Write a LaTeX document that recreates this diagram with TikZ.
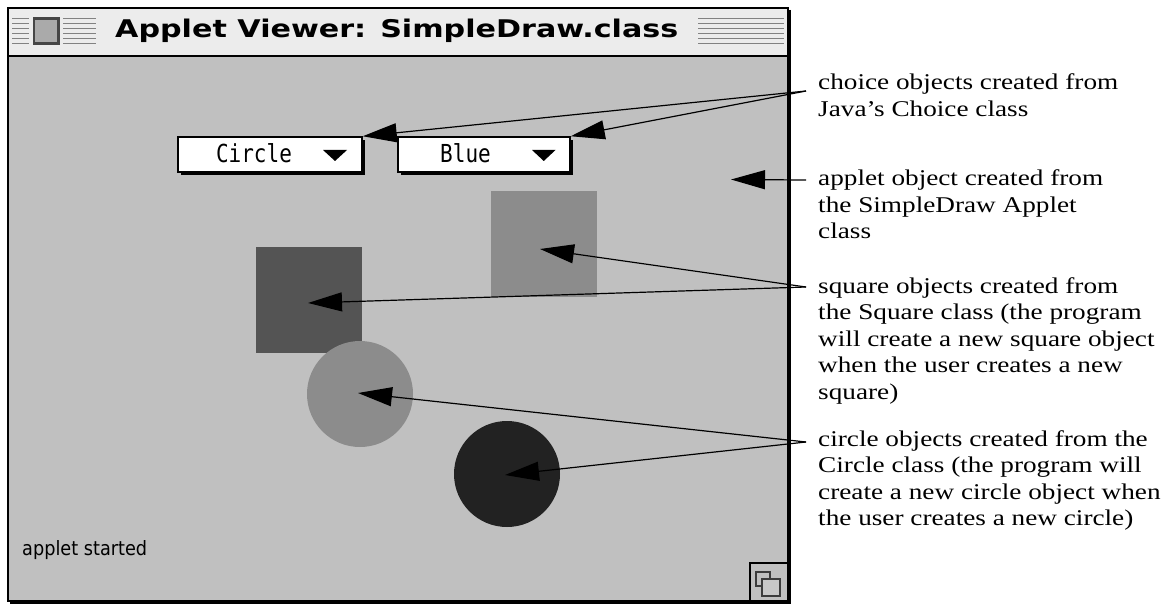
\documentclass[tikz,border=0pt]{standalone}
\usepackage{fontspec}
\setmainfont{Liberation Serif}
\newfontfamily\notefont{Liberation Serif}[FakeStretch=1.21]
\newfontfamily\uifont{DejaVu Sans}
\newfontfamily\uimono{DejaVu Sans Mono}
\usetikzlibrary{arrows.meta}
\definecolor{panel}{RGB}{192,192,192}
\definecolor{titlebg}{RGB}{236,236,236}
\definecolor{stripegray}{RGB}{130,130,130}
\definecolor{shapedark}{RGB}{84,84,84}
\definecolor{shapemid}{RGB}{140,140,140}
\definecolor{shapeblack}{RGB}{34,34,34}
\newcommand{\menutext}[1]{\scalebox{1}[1.18]{#1}}
\begin{document}
\begin{tikzpicture}[x=1pt,y=-1pt,
  note/.style={anchor=west, align=left, inner sep=0pt,
    font=\notefont\fontsize{22.5}{26.5}\selectfont},
  pointer/.style={line width=1.2pt, -{Triangle[length=34pt,width=19pt]}},
  stripe/.style={draw=stripegray, line width=1.6pt},
  choicebox/.style={draw=black, line width=1.5pt, fill=white,
    minimum height=35pt, inner sep=0pt},
  choicetext/.style={anchor=base, inner sep=0pt,
    font=\uimono\fontsize{21}{21}\selectfont},
  blob/.style={inner sep=0pt, minimum size=106pt}]
\useasboundingbox (0,0) rectangle (1164,604);
\fill[white] (0,0) rectangle (1164,604);

% window body and title bar
\fill[panel] (8,56) rectangle (788,601);
\fill[titlebg] (8,8) rectangle (788,56);
\draw[line width=1.5pt] (8,56) -- (788,56);

% title bar stripes
\foreach \yy in {18.5,23.5,28.5,33.5,38.5,43.5}{
  \draw[stripe] (12,\yy) -- (29,\yy);
  \draw[stripe] (63,\yy) -- (96,\yy);
  \draw[stripe] (698,\yy) -- (784,\yy);
}
% close box
\fill[titlebg] (31,15) rectangle (61,47);
\draw[draw={rgb,255:red,70;green,70;blue,70}, fill={rgb,255:red,170;green,170;blue,170}, line width=2.5pt]
  (34,18.5) rectangle (58.5,43.5);

\node[anchor=base west, inner sep=0pt] (title) at (115,38)
  {\resizebox{563pt}{18.5pt}{\uifont\bfseries Applet Viewer: SimpleDraw.class}};

% window frame with its shadow
\draw[line width=2pt] (8,8) rectangle (788,601);
\draw[line width=2.5pt] (790,10) -- (790,603) -- (10,603);

% grow box
\draw[line width=1.5pt] (750,601) -- (750,563) -- (788,563);
\draw[line width=1.6pt, draw={rgb,255:red,60;green,60;blue,60}] (756,572) rectangle (770,586);
\draw[line width=1.6pt, draw={rgb,255:red,60;green,60;blue,60}, fill={rgb,255:red,200;green,200;blue,200}] (762,579) rectangle (780,596);

% status line
\node[anchor=base west, inner sep=0pt] (status) at (22,555)
  {\resizebox{125pt}{15pt}{\uifont applet started}};

% choice menus
\fill (181,140) rectangle (365,175.5);
\node[choicebox, minimum width=184pt] (circlechoice) at (270,154.5) {};
\node[choicetext] (circlelabel) at (254,163) {\menutext{Circle}};
\fill (323,150) -- (347,150) -- (335,161) -- cycle;

\fill (401,140) rectangle (573,175.5);
\node[choicebox, minimum width=172pt] (bluechoice) at (484,154.5) {};
\node[choicetext] (bluelabel) at (465.5,163) {\menutext{Blue}};
\fill (532,150) -- (555.5,150) -- (543.75,161) -- cycle;

% drawn shapes
\node[blob, rectangle, fill=shapemid] (lightsq) at (544,244) {};
\node[blob, rectangle, fill=shapedark] (darksq) at (309,300) {};
\node[blob, circle, fill=shapemid] (lightcirc) at (360,394) {};
\node[blob, circle, fill=shapeblack] (darkcirc) at (507,474) {};

% annotations
\node[note] (choicenote) at (818,95) {choice objects created from\\Java’s Choice class};
\node[note] (appletnote) at (818,204.5) {applet object created from\\the SimpleDraw Applet\\class};
\node[note] (squarenote) at (818,340.5) {square objects created from\\the Square class (the program\\will create a new square object\\when the user creates a new\\square)};
\node[note] (circlenote) at (818,480.5) {circle objects created from the\\Circle class (the program will\\create a new circle object when\\the user creates a new circle)};

\coordinate (choicefrom) at (806,91);
\coordinate (appletfrom) at (806,180);
\coordinate (squarefrom) at (806,287);
\coordinate (circlefrom) at (806,442);
\coordinate (appletspot) at (731,179.5);

\draw[pointer] (choicefrom) -- (circlechoice.north east);
\draw[pointer] (choicefrom) -- (bluechoice.north east);
\draw[pointer] (appletfrom) -- (appletspot);
\draw[pointer] (squarefrom) -- ([shift={(-4,5)}]lightsq.center);
\draw[pointer] (squarefrom) -- ([shift={(-1,3)}]darksq.center);
\draw[pointer] (circlefrom) -- ([shift={(-2,-1)}]lightcirc.center);
\draw[pointer] (circlefrom) -- ([shift={(-2,1)}]darkcirc.center);
\end{tikzpicture}
\end{document}
